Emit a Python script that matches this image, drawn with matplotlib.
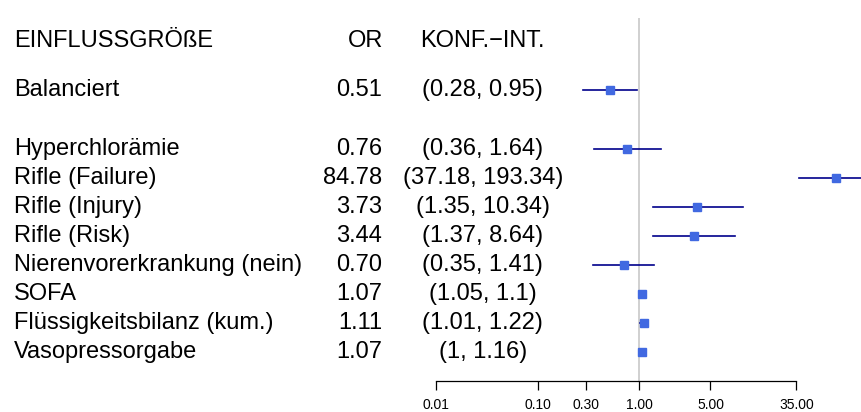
import matplotlib.pyplot as plt
from matplotlib.transforms import blended_transform_factory

# Forest plot data (odds ratios with confidence intervals)
labels = ['Balanciert', 'Hyperchlorämie', 'Rifle (Failure)', 'Rifle (Injury)',
          'Rifle (Risk)', 'Nierenvorerkrankung (nein)', 'SOFA',
          'Flüssigkeitsbilanz (kum.)', 'Vasopressorgabe']
odds = [0.51, 0.76, 84.78, 3.73, 3.44, 0.70, 1.07, 1.11, 1.07]
ci_low = [0.28, 0.36, 37.18, 1.35, 1.37, 0.35, 1.05, 1.01, 1.00]
ci_high = [0.95, 1.64, 193.34, 10.34, 8.64, 1.41, 1.10, 1.22, 1.16]
rows = [2, 4, 5, 6, 7, 8, 9, 10, 11]
xticks = [0.01, 0.10, 0.30, 1.00, 5.00, 35.00]

font = ['Liberation Sans', 'DejaVu Sans']
W, H = 861, 412

fig = plt.figure(figsize=(W / 100, H / 100), dpi=100)
ax = fig.add_axes([0, 31 / H, 1, 381 / H])
ax.set_xscale('log')
# one decade ~ 101.8 px, OR = 1 at x = 639.3 px
dec = 101.8
ax.set_xlim(10 ** (-639.3 / dec), 10 ** ((W - 639.3) / dec))
ax.set_ylim(12, -1.114)

for s in ['top', 'right', 'left']:
    ax.spines[s].set_visible(False)
ax.spines['bottom'].set_bounds(xticks[0], xticks[-1])
ax.spines['bottom'].set_linewidth(0.9)
ax.set_yticks([])
ax.set_xticks(xticks)
ax.set_xticklabels([f'{t:.2f}' for t in xticks], fontsize=10, family=font)
ax.xaxis.set_minor_locator(plt.NullLocator())
ax.tick_params(axis='x', length=6.5, width=0.9, pad=6)

# reference line at OR = 1
ax.vlines(1, -0.5, 12, color='#d0d0d0', lw=1.4, zorder=1)

for r, o, lo, hi in zip(rows, odds, ci_low, ci_high):
    ax.plot([lo, hi], [r, r], color='#00008B', lw=1.2, zorder=2)
    ax.plot(o, r, marker='s', ms=6, color='#4169E1', mec='#4169E1', zorder=3)

# text columns
tr = blended_transform_factory(fig.transFigure, ax.transData)
fs = 17
head = 0.3
ax.text(14 / W, head, 'EINFLUSSGRÖßE', transform=tr, ha='left', va='center', fontsize=fs, family=font)
ax.text(383 / W, head, 'OR', transform=tr, ha='right', va='center', fontsize=fs, family=font)
ax.text(482.7 / W, head, 'KONF.\u2212INT.', transform=tr, ha='center', va='center', fontsize=fs, family=font)
for r, name, o, lo, hi in zip(rows, labels, odds, ci_low, ci_high):
    ax.text(14 / W, r, name, transform=tr, ha='left', va='center', fontsize=fs, family=font)
    ax.text(382 / W, r, f'{o:.2f}', transform=tr, ha='right', va='center', fontsize=fs, family=font)
    ax.text(482.7 / W, r, f'({lo:g}, {hi:g})', transform=tr, ha='center', va='center', fontsize=fs, family=font)

fig.savefig('out.png', dpi=100)
